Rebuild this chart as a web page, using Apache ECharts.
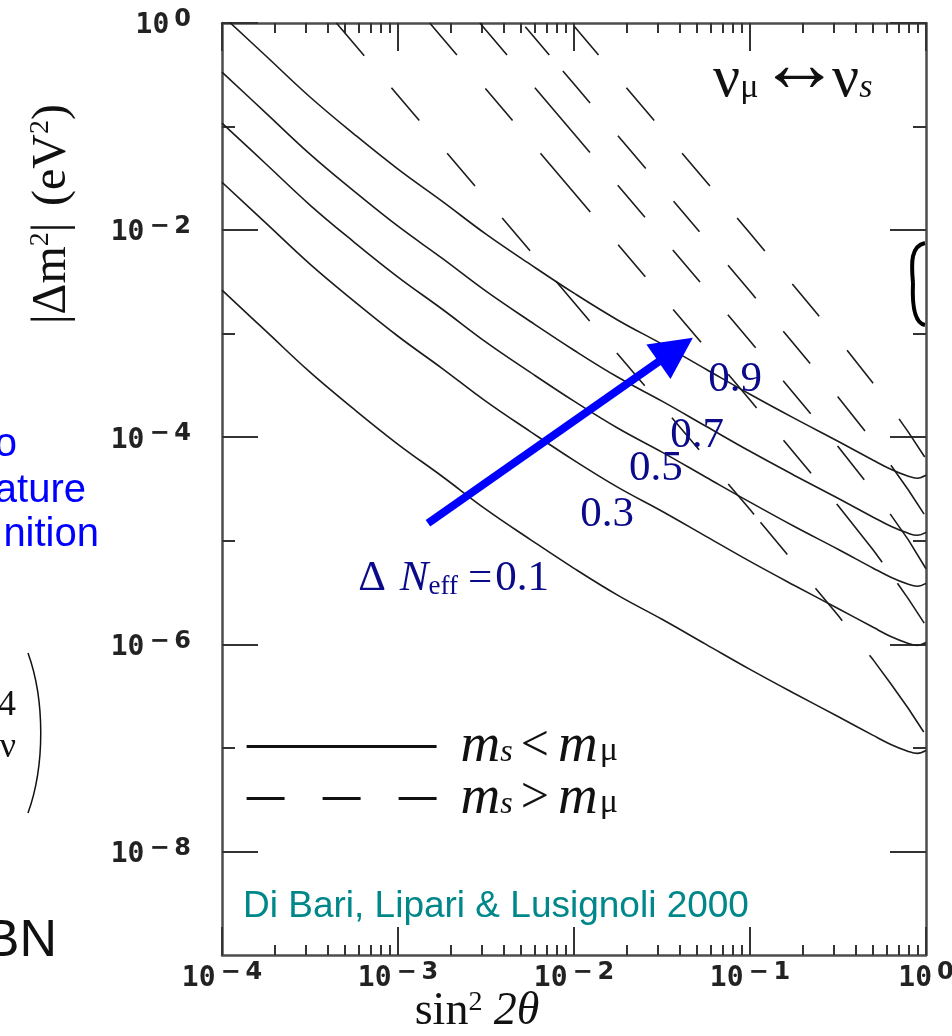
<!DOCTYPE html>
<html><head><meta charset="utf-8">
<script src="https://cdn.jsdelivr.net/npm/echarts@6/dist/echarts.min.js"></script>
<style>html,body{margin:0;padding:0;background:#fff}#c{width:952px;height:1036px}</style>
</head><body><div id="c"></div>
<script>
// ---------- data ----------
// x: sin^2(2θ)   y: |Δm²| (eV²)
const sinSq2Theta = [1e-4, 1.778e-4, 3.162e-4, 5.623e-4, 1e-3, 1.778e-3, 3.162e-3, 5.623e-3, 1e-2, 1.778e-2,
                     3.162e-2, 5.623e-2, 0.1, 0.1778, 0.3162, 0.5012, 0.631, 0.794, 0.891, 1];
// solid curves (m_s < m_mu), ΔN_eff = 0.1 ... 0.9
const dm2Solid01 = [2.63e-3, 1.057e-3, 4.25e-4, 1.866e-4, 8.55e-5, 4.20e-5, 2.01e-5, 1.033e-5, 5.42e-6, 2.97e-6,
                    1.746e-6, 1.0e-6, 5.73e-7, 3.37e-7, 2.01e-7, 1.32e-7, 1.08e-7, 9.25e-8, 8.85e-8, 9.44e-8];
const dm2Solid03 = [2.90e-2, 1.167e-2, 4.69e-3, 2.06e-3, 9.44e-4, 4.63e-4, 2.22e-4, 1.14e-4, 5.98e-5, 3.28e-5,
                    1.93e-5, 1.104e-5, 6.32e-6, 3.72e-6, 2.22e-6, 1.46e-6, 1.19e-6, 1.02e-6, 9.77e-7, 1.04e-6];
const dm2Solid05 = [0.108, 4.35e-2, 1.746e-2, 7.67e-3, 3.52e-3, 1.73e-3, 8.28e-4, 4.25e-4, 2.23e-4, 1.22e-4,
                    7.18e-5, 4.11e-5, 2.36e-5, 1.38e-5, 8.28e-6, 5.43e-6, 4.45e-6, 3.80e-6, 3.64e-6, 3.88e-6];
const dm2Solid07 = [0.336, 0.135, 5.42e-2, 2.38e-2, 1.09e-2, 5.36e-3, 2.57e-3, 1.318e-3, 6.92e-4, 3.79e-4,
                    2.23e-4, 1.276e-4, 7.31e-5, 4.30e-5, 2.57e-5, 1.69e-5, 1.38e-5, 1.18e-5, 1.13e-5, 1.205e-5];
const dm2Solid09 = [1.19, 0.480, 0.193, 8.47e-2, 3.88e-2, 1.905e-2, 9.14e-3, 4.69e-3, 2.46e-3, 1.349e-3,
                    7.93e-4, 4.54e-4, 2.60e-4, 1.528e-4, 9.14e-5, 6.0e-5, 4.91e-5, 4.20e-5, 4.02e-5, 4.29e-5];
// dashed curves (m_s > m_mu)
const dashX01 = [4.467e-4, 1e-3, 1e-2, 0.1, 0.3162, 0.5012, 0.631, 0.794, 1];
const dashY01 = [1, 0.1995, 2.0e-3, 2.0e-5, 1.905e-6, 7.08e-7, 4.17e-7, 2.40e-7, 1.32e-7];
const dashX03 = [1.514e-3, 1e-2, 0.1, 0.3162, 0.5012, 0.631, 0.794, 1];
const dashY03 = [1, 2.29e-2, 2.29e-4, 2.19e-5, 8.13e-6, 4.79e-6, 2.75e-6, 1.51e-6];
const dashX05 = [2.917e-3, 1e-2, 0.1, 0.3162, 0.5012, 0.631, 0.794, 1];
const dashY05 = [1, 8.51e-2, 8.51e-4, 8.13e-5, 3.02e-5, 1.78e-5, 1.02e-5, 5.37e-6];
const dashX07 = [5.07e-3, 1e-2, 0.1, 0.3162, 0.5012, 0.631, 0.794, 1];
const dashY07 = [1, 0.257, 2.57e-3, 2.45e-4, 9.12e-5, 5.37e-5, 3.09e-5, 1.70e-5];
const dashX09 = [9.66e-3, 3.162e-2, 0.1, 0.3162, 0.5012, 0.631, 0.794, 1];
const dashY09 = [1, 9.33e-2, 9.33e-3, 8.91e-4, 3.31e-4, 1.95e-4, 1.12e-4, 6.17e-5];
// curve labels (position in data units) and texts
const labelX = [0.0822, 0.050, 0.0292, 0.0154, 2.07e-3];
const labelY = [3.56e-4, 1.045e-4, 5.01e-5, 1.80e-5, 4.35e-6];
const labelText = ['0.9', '0.7', '0.5', '0.3', 'ΔNeff=0.1'];
// arrow (data units)
const arrowFrom = [1.48e-3, 1.476e-5];
const arrowTo = [3.78e-2, 7.0e-4];
// axis ticks
const xDecades = [1e-4, 1e-3, 1e-2, 1e-1, 1];
const minorMultipliers = [2, 3, 4, 5, 6, 7, 8, 9];
const yLabelTicks = [1e-8, 1e-6, 1e-4, 1e-2, 1];
const yOddTicks = [1e-7, 1e-5, 1e-3, 1e-1];
const seriesSolidName = 'm_s<m_μ';
const seriesDashName = 'm_s>m_μ';

// dash patterns (px along the curve) as drawn in the picture
const dashPattern01 = [43, 42, 43, 43, 43, 42, 43, 40, 52, 42, 43, 42, 42, 45, 40, 10, 42, 44, 42, 44, 94, 400];
const dashPattern03 = [42, 44, 42, 43, 77, 43, 42, 43, 43, 42, 44, 42, 43, 40, 74, 26, 48, 400];
const dashPattern05 = [42, 43, 85, 43, 42, 43, 42, 43, 43, 43, 43, 42, 43, 43, 77, 400];
const dashPattern07 = [0, 5, 37, 21, 42, 43, 43, 43, 40, 44, 43, 43, 42, 43, 44, 43, 59, 400];
const dashPattern09 = [0, 5, 37, 43, 43, 43, 43, 42, 43, 43, 42, 44, 42, 44, 46, 400];

// ---------- chart ----------
const xMinorTicks = [];
xDecades.slice(0, 4).forEach(d => minorMultipliers.forEach(m => xMinorTicks.push(m * d)));

const zip = (xs, ys) => xs.map((x, i) => [x, ys[i]]);
const INK = '#1c1c1c';
const axisLineStyle = { color: '#4d4d4d', width: 2.5 };
const tickStyle = { color: '#333', width: 2 };
const labelRich = {
  b: { fontFamily: 'DejaVu Sans Mono', fontSize: 28, fontWeight: 'bold', lineHeight: 36, color: '#222' },
  e: { fontFamily: 'DejaVu Sans', fontSize: 24, fontWeight: 'bold', lineHeight: 22, verticalAlign: 'top', color: '#222', padding: [0, 0, 0, 5] }
};
function powLabel(v) {
  const e = Math.round(Math.log10(v));
  return '{b|10}{e|' + (e < 0 ? '−\u2009' + (-e) : String(e)) + '}';
}
function logAxis(extra) {
  return Object.assign({
    type: 'log', logBase: 10, splitLine: { show: false }, minorTick: { show: false },
    axisLine: { show: false, onZero: false, lineStyle: axisLineStyle },
    axisLabel: { show: false }
  }, extra);
}
function xAx(pos, ticks, len, line, labels) {
  return logAxis({
    min: 1e-4, max: 1, position: pos,
    axisLine: { show: line, onZero: false, lineStyle: axisLineStyle },
    axisTick: { show: true, inside: true, length: len, customValues: ticks, lineStyle: tickStyle },
    axisLabel: labels ? { show: true, customValues: xDecades, formatter: powLabel, rich: labelRich, margin: 2, padding: [4, 0, 0, 0] } : { show: false }
  });
}
function yAx(pos, ticks, len, line, labels) {
  return logAxis({
    min: 1e-9, max: 1, position: pos,
    axisLine: { show: line, onZero: false, lineStyle: axisLineStyle },
    axisTick: { show: true, inside: true, length: len, customValues: ticks, lineStyle: tickStyle },
    axisLabel: labels ? { show: true, customValues: yLabelTicks, formatter: powLabel, rich: labelRich, margin: 31, padding: [6, 0, 0, 0] } : { show: false }
  });
}

const solidSets = [dm2Solid01, dm2Solid03, dm2Solid05, dm2Solid07, dm2Solid09];
const dashSets = [[dashX01, dashY01, dashPattern01], [dashX03, dashY03, dashPattern03], [dashX05, dashY05, dashPattern05],
                  [dashX07, dashY07, dashPattern07], [dashX09, dashY09, dashPattern09]];

const series = [];
solidSets.forEach(ys => series.push({
  type: 'line', name: seriesSolidName, data: zip(sinSq2Theta, ys), showSymbol: false, symbol: 'none',
  smooth: 0.4, clip: true, lineStyle: { color: INK, width: 1.6 }, itemStyle: { color: INK }, z: 3, silent: true
}));
dashSets.forEach(([xs, ys, pat]) => series.push({
  type: 'line', name: seriesDashName, data: zip(xs, ys), showSymbol: false, symbol: 'none',
  clip: true, lineStyle: { color: INK, width: 1.6, type: pat, dashOffset: 0 }, itemStyle: { color: INK }, z: 3, silent: true
}));
// blue arrow
series.push({
  type: 'lines', coordinateSystem: 'cartesian2d', xAxisIndex: 0, yAxisIndex: 0, z: 6, silent: true,
  symbol: ['none', 'triangle'], symbolSize: 42,
  lineStyle: { color: '#0000ff', width: 8, opacity: 1, curveness: 0 },
  data: [{ coords: [arrowFrom, arrowTo] }]
});
// curve labels
const labelNavy = '#0a0a8a';
series.push({
  type: 'scatter', xAxisIndex: 0, yAxisIndex: 0, z: 7, silent: true, symbolSize: 1,
  itemStyle: { color: 'rgba(0,0,0,0)', opacity: 1 },
  emphasis: { disabled: true },
  data: labelX.map((x, i) => [x, labelY[i], labelText[i]]),
  label: {
    show: true, position: 'inside', color: labelNavy, opacity: 1,
    formatter: p => p.data[2] === 'ΔNeff=0.1' ? '{d|Δ}{n|N}{sub|eff}{q|=}{d|0.1}' : '{d|' + p.data[2] + '}',
    rich: {
      d: { fontFamily: 'Liberation Serif', fontSize: 43, lineHeight: 44, color: labelNavy, opacity: 1 },
      q: { fontFamily: 'Liberation Serif', fontSize: 43, lineHeight: 44, color: labelNavy, opacity: 1, padding: [0, 3, 0, 4] },
      n: { fontFamily: 'Liberation Serif', fontStyle: 'italic', fontSize: 43, lineHeight: 44, color: labelNavy, opacity: 1, padding: [0, 0, 0, 14] },
      sub: { fontFamily: 'Liberation Serif', fontSize: 27, lineHeight: 16, verticalAlign: 'bottom', color: labelNavy, opacity: 1, padding: [0, 6, 0, 0] }
    }
  }
});

const legendRich = {
  m: { fontFamily: 'Liberation Serif', fontStyle: 'italic', fontSize: 55, lineHeight: 44, color: '#111' },
  o: { fontFamily: 'Liberation Serif', fontSize: 50, lineHeight: 44, color: '#111', padding: [0, 9, 0, 8] },
  s: { fontFamily: 'Liberation Serif', fontStyle: 'italic', fontSize: 32, lineHeight: 2, verticalAlign: 'bottom', color: '#111' },
  u: { fontFamily: 'Liberation Serif', fontSize: 34, lineHeight: 2, verticalAlign: 'bottom', color: '#111', padding: [0, 0, 0, 2] }
};

const serif = 'Liberation Serif';
const nuRich = {
  n: { fontFamily: serif, fontSize: 60, lineHeight: 50, fill: '#111' },
  u: { fontFamily: serif, fontSize: 34, lineHeight: 14, verticalAlign: 'bottom', fill: '#111' },
  i: { fontFamily: serif, fontStyle: 'italic', fontSize: 34, lineHeight: 14, verticalAlign: 'bottom', fill: '#111' }
};
const option = {
  backgroundColor: '#ffffff',
  animation: false,
  grid: { left: 222, right: 26, top: 23, bottom: 81, containLabel: false, outerBoundsMode: 'none' },
  xAxis: [
    xAx('bottom', xDecades, 28, true, true),
    xAx('bottom', xMinorTicks, 10, false, false),
    xAx('top', xDecades, 28, true, false),
    xAx('top', xMinorTicks, 10, false, false)
  ],
  yAxis: [
    yAx('left', yLabelTicks, 36, true, true),
    yAx('left', yOddTicks, 13, false, false),
    yAx('right', yLabelTicks, 36, true, false),
    yAx('right', yOddTicks, 13, false, false)
  ],
  legend: {
    orient: 'vertical', left: 240, top: 714, itemWidth: 190, itemHeight: 2, itemGap: -3,
    selectedMode: false,
    itemStyle: { opacity: 0 },
    lineStyle: { width: 3.2, color: '#111' },
    data: [
      { name: seriesSolidName },
      { name: seriesDashName, lineStyle: { type: [38, 38], width: 3.2, color: '#111' } }
    ],
    formatter: name => name === seriesSolidName ? '{m|m}{s|s}{o|<}{m|m}{u|μ}' : '{m|m}{s|s}{o|>}{m|m}{u|μ}',
    textStyle: { rich: legendRich, padding: [0, 0, 0, 19] }
  },
  graphic: [
    // y-axis title
    { type: 'text', x: 52, y: 214, rotation: Math.PI / 2, z: 10,
      style: { text: '{t||Δm}{s|2}{t||}     {t|(eV}{s|2}{t|)}', textAlign: 'center', textVerticalAlign: 'middle',
        rich: { t: { fontFamily: serif, fontSize: 48, lineHeight: 50, fill: '#111' },
                s: { fontFamily: serif, fontSize: 28, lineHeight: 26, verticalAlign: 'top', fill: '#111' } } } },
    // x-axis title
    { type: 'text', x: 477, y: 1012, z: 10,
      style: { text: '{t|sin}{s|2} {i|2θ}', textAlign: 'center', textVerticalAlign: 'middle',
        rich: { t: { fontFamily: serif, fontSize: 46, lineHeight: 46, fill: '#111' },
                i: { fontFamily: serif, fontStyle: 'italic', fontSize: 46, lineHeight: 46, fill: '#111', padding: [0, 0, 0, 8] },
                s: { fontFamily: serif, fontSize: 28, lineHeight: 26, verticalAlign: 'top', fill: '#111' } } } },
    // channel label  ν_μ ↔ ν_s
    { type: 'text', x: 713, y: 80, z: 10,
      style: { text: '{n|ν}{u|μ}', textAlign: 'left', textVerticalAlign: 'middle', rich: nuRich } },
    { type: 'text', x: 799, y: 69, z: 10,
      style: { text: '↔', fill: '#111', fontFamily: serif, fontSize: 82, textAlign: 'center', textVerticalAlign: 'middle' } },
    { type: 'text', x: 832, y: 80, z: 10,
      style: { text: '{n|ν}{i|s}', textAlign: 'left', textVerticalAlign: 'middle', rich: nuRich } },
    // credit
    { type: 'text', x: 243, y: 907, z: 10,
      style: { text: 'Di Bari, Lipari & Lusignoli 2000', fill: '#00878a', fontFamily: 'Liberation Sans', fontSize: 37,
        textAlign: 'left', textVerticalAlign: 'middle' } },
    // slide fragments on the left
    { type: 'text', x: 17, y: 465, style: { text: 'o', fill: '#0000ff', fontFamily: 'Liberation Sans', fontSize: 40, textAlign: 'right', textVerticalAlign: 'bottom' } },
    { type: 'text', x: 86, y: 511, style: { text: 'ature', fill: '#0000ff', fontFamily: 'Liberation Sans', fontSize: 40, textAlign: 'right', textVerticalAlign: 'bottom' } },
    { type: 'text', x: 99, y: 555, style: { text: 'nition', fill: '#0000ff', fontFamily: 'Liberation Sans', fontSize: 40, textAlign: 'right', textVerticalAlign: 'bottom' } },
    { type: 'text', x: 16, y: 706, style: { text: '4', fill: '#111', fontFamily: serif, fontSize: 36, textAlign: 'right', textVerticalAlign: 'middle' } },
    { type: 'text', x: 16, y: 748, style: { text: 'ν', fill: '#111', fontFamily: serif, fontSize: 36, textAlign: 'right', textVerticalAlign: 'middle' } },
    { type: 'text', x: 57, y: 942, style: { text: 'BN', fill: '#111', fontFamily: 'Liberation Sans', fontSize: 52, textAlign: 'right', textVerticalAlign: 'middle' } },
    { type: 'bezierCurve', shape: { x1: 28, y1: 653, cpx1: 45, cpy1: 700, cpx2: 45, cpy2: 766, x2: 28, y2: 813 },
      style: { stroke: '#111', lineWidth: 1.5, fill: null } },
    // bold bracket at right frame
    { type: 'bezierCurve', z: 10, shape: { x1: 925, y1: 243, cpx1: 911, cpy1: 246, cpx2: 911, cpy2: 262, x2: 913, y2: 283 },
      style: { stroke: '#000', lineWidth: 4, fill: null } },
    { type: 'bezierCurve', z: 10, shape: { x1: 913, y1: 283, cpx1: 912, cpy1: 305, cpx2: 914, cpy2: 323, x2: 925, y2: 325 },
      style: { stroke: '#000', lineWidth: 4, fill: null } }
  ],
  series: series
};
const chart = echarts.init(document.getElementById('c'), null, { renderer: 'canvas', width: 952, height: 1036 });
chart.setOption(option);
</script>
</body></html>
